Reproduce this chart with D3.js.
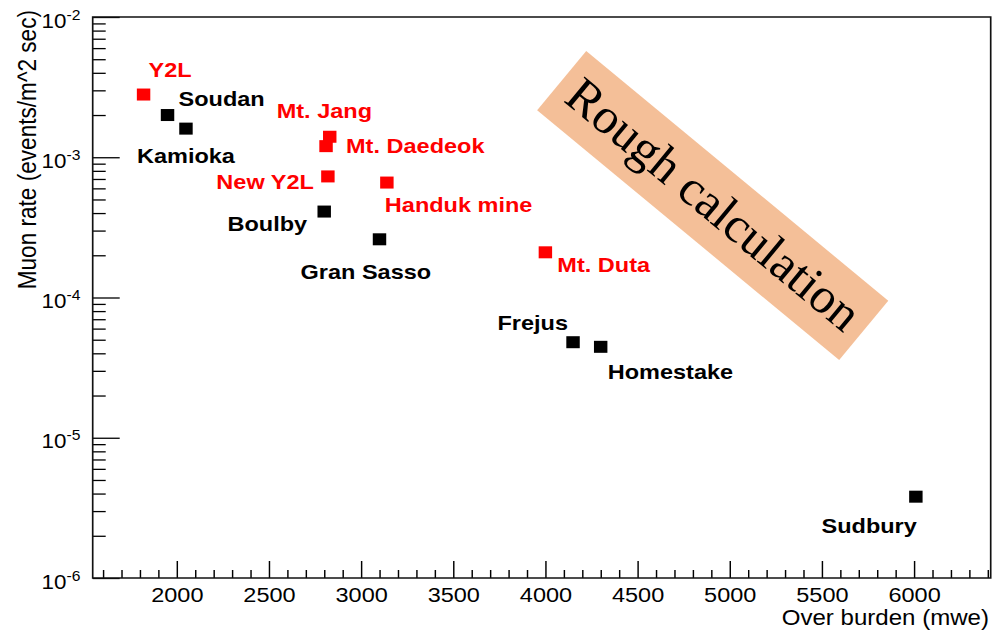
<!DOCTYPE html>
<html>
<head>
<meta charset="utf-8">
<script src="https://cdn.jsdelivr.net/npm/d3@7"></script>
<style>
body{margin:0;background:#fff;}
svg{display:block;}
text{font-family:"Liberation Sans",Arial,Helvetica,sans-serif;}
.site{font-weight:bold;font-size:21px;}
.tick text{font-size:21px;fill:#000;}
</style>
</head>
<body>
<svg class="graph1"></svg>
<script>
// underground labs: depth (m.w.e.) vs muon rate
var sites = ["Y2L","Soudan","Kamioka","Mt. Jang","Mt. Daedeok","New Y2L","Handuk mine",
             "Boulby","Gran Sasso","Mt. Duta","Frejus","Homestake","Sudbury"];
var depth = [1820,1950,2050,2830,2810,2820,3140,2800,3100,4000,4150,4300,6010];
var rate  = [2.8e-3,2.0e-3,1.6e-3,1.4e-3,1.2e-3,7.3e-4,6.6e-4,4.1e-4,2.6e-4,2.1e-4,4.8e-5,4.45e-5,3.8e-6];
var korean = [true,false,false,true,true,true,true,false,false,true,false,false,false];

var xTicks = [2000,2500,3000,3500,4000,4500,5000,5500,6000];
var yTicks = [1e-6,1e-5,1e-4,1e-3,1e-2];
var yExp = ["-6","-5","-4","-3","-2"];
var xTitle = "Over burden (mwe)";
var yTitle = "Muon rate (events/m^2 sec)";
var note = "Rough calculation";

// where each name sits relative to its marker (screen px)
var labelSpot = {
    "Y2L":[5,-18,"start"], "Soudan":[11,-9,"start"], "Kamioka":[-49,34,"start"],
    "Mt. Jang":[-53,-19,"start"], "Mt. Daedeok":[20,7,"start"], "New Y2L":[-14,13,"end"],
    "Handuk mine":[-2,29,"start"], "Boulby":[-17,19,"end"], "Gran Sasso":[-79,40,"start"],
    "Mt. Duta":[12,20,"start"], "Frejus":[-5,-12,"end"], "Homestake":[7,32,"start"],
    "Sudbury":[1,36,"end"]
};

var SX = 1.12; // the original picture is a bit wider than tall

var screen = {width:1000,height:634};
var frame = {left:92.7,right:990.7,top:17,bottom:578};

var svg = d3.select(".graph1")
    .attr("width",screen.width)
    .attr("height",screen.height);

var chart = svg.append("g").attr("transform","scale("+SX+",1)");

var xScale = d3.scaleLinear()
    .domain([1544,6416])
    .range([frame.left/SX, frame.right/SX]);

var yScale = d3.scaleLog()
    .domain([1e-6,1e-2])
    .range([frame.bottom, frame.top]);

var styleAxis = function(g)
{
    g.select(".domain").remove();
    g.selectAll(".tick line").attr("stroke","#000").attr("stroke-width",1.3);
}

// x axis
var xMinor = d3.range(1600,6401,100).filter(function(v){return v%500!=0;});
chart.append("g")
    .attr("transform","translate(0,"+frame.bottom+")")
    .call(d3.axisBottom(xScale).tickValues(xMinor).tickSize(-8).tickSizeOuter(0).tickFormat(""))
    .call(styleAxis);
chart.append("g")
    .attr("transform","translate(0,"+frame.bottom+")")
    .call(d3.axisBottom(xScale).tickValues(xTicks).tickSize(-17).tickSizeOuter(0).tickPadding(9)
          .tickFormat(d3.format("d")))
    .call(styleAxis);

// y axis
var yMinor = [];
yTicks.slice(0,4).forEach(function(d){
    for(var m=2;m<10;m++){ yMinor.push(m*d); }
});
chart.append("g")
    .attr("transform","translate("+frame.left/SX+",0)")
    .call(d3.axisLeft(yScale).tickValues(yMinor).tickSize(-13/SX).tickSizeOuter(0).tickFormat(""))
    .call(styleAxis);
var yAx = chart.append("g")
    .attr("transform","translate("+frame.left/SX+",0)")
    .call(d3.axisLeft(yScale).tickValues(yTicks).tickSize(-27/SX).tickSizeOuter(0).tickPadding(11))
    .call(styleAxis);
yAx.selectAll(".tick text")
    .attr("dy","0.48em")
    .text(null)
    .each(function(d,i){
        var t = d3.select(this);
        t.append("tspan").text("10").style("font-size","20px");
        t.append("tspan").text(yExp[i]).attr("dy",-8).style("font-size","14px");
    });

// frame
chart.append("rect")
    .attr("x",frame.left/SX)
    .attr("y",frame.top)
    .attr("width",(frame.right-frame.left)/SX)
    .attr("height",frame.bottom-frame.top)
    .attr("fill","none")
    .attr("stroke","#111")
    .attr("stroke-width",1.5);

// titles
chart.append("text")
    .text(xTitle)
    .attr("text-anchor","end")
    .attr("x",989/SX)
    .attr("y",625)
    .style("font-size","21.5px");

chart.append("text")
    .text(yTitle)
    .attr("text-anchor","end")
    .attr("transform","translate("+(36/SX)+",10) rotate(-90)")
    .style("font-size","22.6px");

// markers
var marks = chart.append("g").selectAll("rect")
    .data(sites)
    .enter()
    .append("rect")
    .attr("x",function(d,i){return xScale(depth[i])-6;})
    .attr("y",function(d,i){return yScale(rate[i])-6;})
    .attr("width",12)
    .attr("height",12)
    .attr("fill",function(d,i){return korean[i]?"#ff0000":"#000";});

chart.append("g").selectAll("text")
    .data(sites)
    .enter()
    .append("text")
    .classed("site",true)
    .text(function(d){return d;})
    .attr("x",function(d,i){return xScale(depth[i])+labelSpot[d][0]/SX;})
    .attr("y",function(d,i){return yScale(rate[i])+labelSpot[d][1];})
    .attr("text-anchor",function(d){return labelSpot[d][2];})
    .attr("fill",function(d,i){return korean[i]?"#ff0000":"#000";});

// overlay note
var box = svg.append("g")
    .attr("transform","translate(712.7,205.5) rotate(39.6)");
box.append("rect")
    .attr("x",-196).attr("y",-38.5)
    .attr("width",392).attr("height",77)
    .attr("fill","#f4bf98");
box.append("text")
    .text(note)
    .attr("text-anchor","middle")
    .attr("dy","0.3em")
    .style("font-family","'Liberation Serif','Times New Roman',serif")
    .style("font-size","50px")
    .attr("fill","#000");
</script>
</body>
</html>
